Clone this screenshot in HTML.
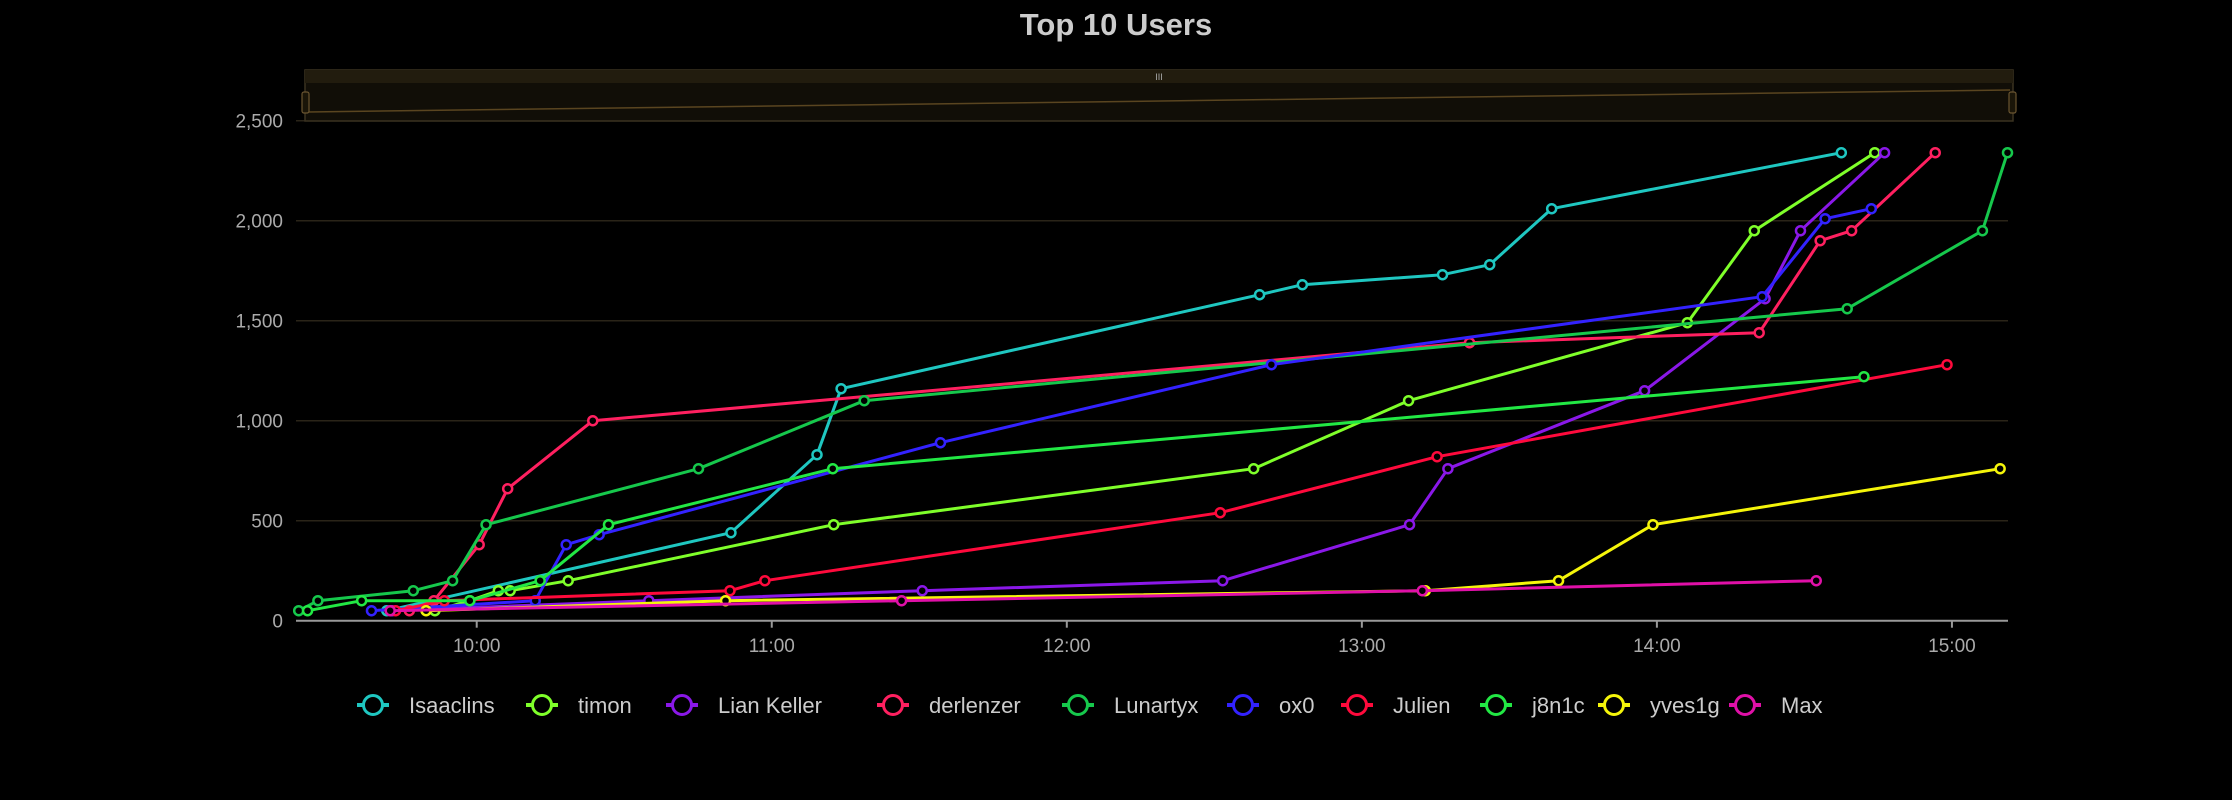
<!DOCTYPE html>
<html><head><meta charset="utf-8"><style>
html,body{margin:0;padding:0;background:#000;}
svg{display:block;font-family:"Liberation Sans",sans-serif;}
</style></head><body>
<svg id="chart" width="2232" height="800" viewBox="0 0 2232 800">
<text x="1116" y="35" text-anchor="middle" font-size="31" font-weight="bold" fill="#cccccc">Top 10 Users</text>
<g id="grid"></g>
<g id="yaxis"></g>
<g id="xaxis"></g>
<g id="series"></g>
<g>
<rect x="305" y="70" width="1708" height="51" fill="#110e07" stroke="#3a3220" stroke-width="1.5"/>
<rect x="305" y="70" width="1708" height="13" fill="#221c0e"/>
<line x1="308" y1="112" x2="2010" y2="90" stroke="#5a4520" stroke-width="1.5"/>
<rect x="302" y="92" width="7" height="21" rx="2" fill="#1a1508" stroke="#6a5530" stroke-width="1.2"/>
<rect x="2009" y="92" width="7" height="21" rx="2" fill="#1a1508" stroke="#6a5530" stroke-width="1.2"/>
<text x="1159" y="80" text-anchor="middle" font-size="9" fill="#aaa">III</text>
</g>
<g id="legend"></g>
</svg>
<script>
const seriesNames = ["Isaaclins","timon","Lian Keller","derlenzer","Lunartyx","ox0","Julien","j8n1c","yves1g","Max"];
const seriesColors = ["#1fc7c1","#7fff2a","#8a18e8","#ff2060","#16c84c","#3322ff","#ff0a3c","#22e844","#f5f50a","#e010a8"];
// times in minutes since midnight
const tIsaaclins = [581.7,651.7,669.2,674.1,759.2,767.9,796.4,806,818.6,877.5];
const vIsaaclins = [50,440,830,1160,1630,1680,1730,1780,2060,2340];
const tTimon = [591.5,598.6,604.4,606.8,618.6,672.6,758,789.5,846.2,859.8,884.3];
const vTimon = [50,100,150,150,200,480,760,1100,1490,1950,2340];
const tLian = [582.8,635,690.6,751.7,789.7,797.5,837.5,862,869.2,886.3];
const vLian = [50,100,150,200,480,760,1150,1610,1950,2340];
const tDerlenzer = [586.3,591.3,600.5,606.3,623.6,801.9,860.8,873.2,879.6,896.6];
const vDerlenzer = [50,100,380,660,1000,1390,1440,1900,1950,2340];
const tLunartyx = [563.8,567.7,587.1,595.1,601.9,645.1,678.8,878.7,906.2,911.3];
const vLunartyx = [50,100,150,200,480,760,1100,1560,1950,2340];
const tOx0 = [578.6,611.9,618.2,624.9,694.3,761.6,861.4,874.2,883.6];
const vOx0 = [50,100,380,430,890,1280,1620,2010,2060];
const tJulien = [583.5,593.4,651.5,658.6,751.2,795.3,899];
const vJulien = [50,100,150,200,540,820,1280];
const tJ8n1c = [565.6,576.6,598.6,612.9,626.8,672.4,882.1];
const vJ8n1c = [50,100,100,200,480,760,1220];
const tYves = [589.7,650.6,792.9,820,839.2,909.8];
const vYves = [50,100,150,200,480,760];
const tMax = [582.4,686.4,792.3,872.4];
const vMax = [50,100,150,200];
const seriesTimes = [tIsaaclins,tTimon,tLian,tDerlenzer,tLunartyx,tOx0,tJulien,tJ8n1c,tYves,tMax];
const seriesValues = [vIsaaclins,vTimon,vLian,vDerlenzer,vLunartyx,vOx0,vJulien,vJ8n1c,vYves,vMax];
const yTicks = [0,500,1000,1500,2000,2500];
const yTickLabels = ["0","500","1,000","1,500","2,000","2,500"];
const xTicks = [600,660,720,780,840,900];
const xTickLabels = ["10:00","11:00","12:00","13:00","14:00","15:00"];
const legendIconX = [373,542,682,893,1078,1243,1357,1496,1614,1745];

const NS="http://www.w3.org/2000/svg";
const X0=296,X1=2008,T0=563.25,T1=911.4;
const Y0=620.7,Y1=120.7,V0=0,V1=2500;
function xs(t){return X0+(t-T0)/(T1-T0)*(X1-X0);}
function ys(v){return Y0+(v-V0)/(V1-V0)*(Y1-Y0);}
function mk(tag,attrs,parent){const e=document.createElementNS(NS,tag);for(const k in attrs)e.setAttribute(k,attrs[k]);parent.appendChild(e);return e;}
const grid=document.getElementById('grid'),ya=document.getElementById('yaxis'),xa=document.getElementById('xaxis'),ser=document.getElementById('series'),leg=document.getElementById('legend');
yTicks.forEach((v,i)=>{
  if(v>0){const g=mk('line',{x1:X0,x2:X1,y1:ys(v),y2:ys(v),stroke:'#2a2418','stroke-width':1.5},grid);
  
  }
  const t=mk('text',{x:283,y:ys(v)+7,'text-anchor':'end','font-size':19,fill:'#aaaaaa'},ya);
  t.textContent=yTickLabels[i];
  
  
});
const ax=mk('line',{x1:X0,x2:X1,y1:Y0,y2:Y0,stroke:'#999',"stroke-width":2},xa);


xTicks.forEach((t,i)=>{
  const tk=mk('line',{x1:xs(t),x2:xs(t),y1:Y0,y2:Y0+7,stroke:'#999','stroke-width':2},xa);
  
  
  const l=mk('text',{x:xs(t),y:652,'text-anchor':'middle','font-size':19,fill:'#aaaaaa'},xa);
  l.textContent=xTickLabels[i];
  
  
});
seriesNames.forEach((n,si)=>{
  const g=mk('g',{},ser);
  
  
  const pts=seriesTimes[si].map((t,j)=>xs(t).toFixed(1)+','+ys(seriesValues[si][j]).toFixed(1)).join(' ');
  const pl=mk('polyline',{points:pts,fill:'none',stroke:seriesColors[si],'stroke-width':3,'stroke-linejoin':'round'},g);
  
  
  seriesTimes[si].forEach((t,j)=>{
    const c=mk('circle',{cx:xs(t),cy:ys(seriesValues[si][j]),r:4.5,fill:'#000',stroke:seriesColors[si],'stroke-width':2.5},g);
    
    
  });
});
seriesNames.forEach((n,i)=>{
  const g=mk('g',{},leg);
  
  
  const cx=legendIconX[i],cy=705;
  mk('line',{x1:cx-16,x2:cx+16,y1:cy,y2:cy,stroke:seriesColors[i],'stroke-width':4},g);
  mk('circle',{cx:cx,cy:cy,r:9.5,fill:'#000',stroke:seriesColors[i],'stroke-width':3},g);
  const t=mk('text',{x:cx+36,y:cy+8,'font-size':22,fill:'#cccccc'},g);
  t.textContent=n;
});
</script>
</body></html>
